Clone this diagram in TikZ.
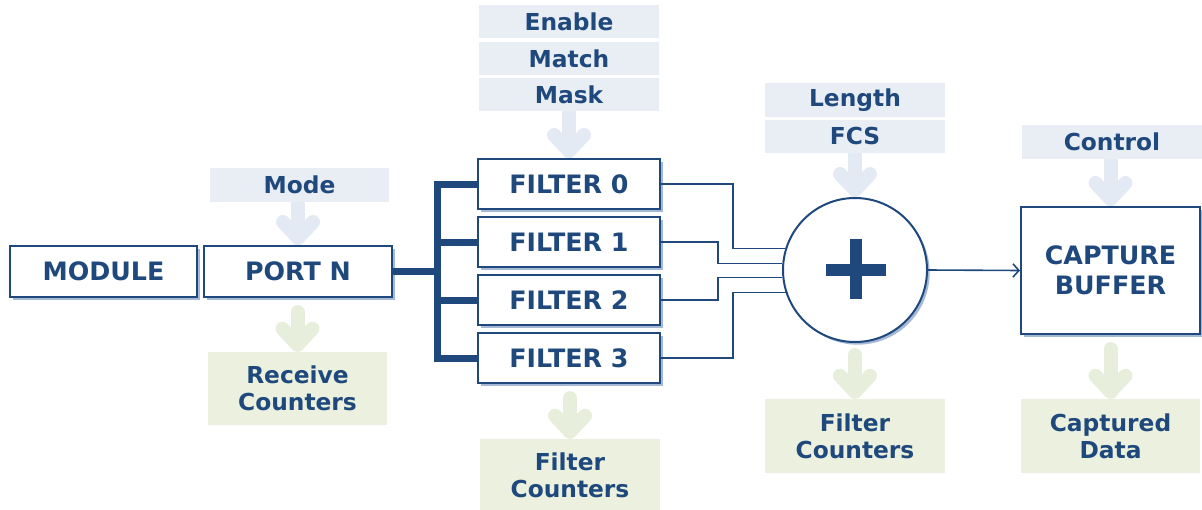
\documentclass[tikz,border=0pt]{standalone}
\usepackage{fontspec}
\setmainfont{DejaVu Sans}
\usetikzlibrary{calc,shadows,backgrounds,arrows.meta}
\definecolor{dblue}{RGB}{31,73,125}
\definecolor{lblue}{RGB}{233,237,244}
\definecolor{lgreen}{RGB}{235,241,222}
\definecolor{ablue}{RGB}{228,234,243}
\definecolor{agreen}{RGB}{231,239,220}
\definecolor{shc}{RGB}{165,185,215}
\newcommand\bigf{\fontsize{19}{22.5}\selectfont\bfseries}
\newcommand\labf{\fontsize{17.5}{20.25}\selectfont\bfseries}
\newcommand\fatarr[4]{%
  \draw[#1] ($(#2.south -| #3.north)+(0,#4)$) -- ($(#3.north)+(0,-7)$);
  \draw[#1] ($(#3.north)+(-15,-23)$) -- ($(#3.north)+(0,-7)$) -- ($(#3.north)+(15,-23)$);
}
\tikzset{
  box/.style={draw=dblue, line width=1.5pt, fill=white, text=dblue, font=\bigf,
    align=center, inner sep=0pt,
    drop shadow={shadow xshift=2pt, shadow yshift=-2pt, fill=shc, opacity=1}},
  inbox/.style={fill=lblue, text=dblue, font=\labf, align=center, inner sep=0pt},
  outbox/.style={fill=lgreen, text=dblue, font=\labf, align=center, inner sep=0pt},
  bus/.style={draw=dblue, line width=5.25pt},
  conn/.style={draw=dblue, line width=1.2pt},
  farb/.style={draw=ablue, line width=10.5pt, line cap=round, line join=round},
  farg/.style={draw=agreen, line width=10.5pt, line cap=round, line join=round},
}
\begin{document}
\begin{tikzpicture}[x=0.75pt,y=-0.75pt]
\useasboundingbox (0,0) rectangle (1202,510);
% main boxes
\node[box, minimum width=140.25pt, minimum height=38.25pt] (module) at (103.5,271.5) {MODULE};
\node[box, minimum width=141pt, minimum height=38.25pt] (port) at (298,271.5) {PORT N};
\node[inbox, minimum width=134.25pt, minimum height=25.5pt] (mode) at (299.5,185) {Mode};
\node[outbox, minimum width=134.25pt, minimum height=54.75pt] (recv) at (297.5,388.5) {Receive\\Counters};
% filters
\node[box, minimum width=136.5pt, minimum height=37.5pt] (f0) at (569,184) {FILTER 0};
\node[box, minimum width=136.5pt, minimum height=37.5pt] (f1) at (569,242) {FILTER 1};
\node[box, minimum width=136.5pt, minimum height=37.5pt] (f2) at (569,300) {FILTER 2};
\node[box, minimum width=136.5pt, minimum height=37.5pt] (f3) at (569,358) {FILTER 3};
\node[inbox, minimum width=135pt, minimum height=24.75pt] (enable) at (569,21.5) {Enable};
\node[inbox, minimum width=135pt, minimum height=24.75pt] (match) at (569,58.5) {Match};
\node[inbox, minimum width=135pt, minimum height=24.75pt] (mask) at (569,94.5) {Mask};
\node[outbox, minimum width=135pt, minimum height=54.75pt] (fc1) at (570,475.5) {Filter\\Counters};
% combiner
\node[box, circle, minimum size=108pt] (circ) at (855,270) {};
\fill[dblue] ($(circ.center)+(-29,-6)$) rectangle ($(circ.center)+(31,6)$);
\fill[dblue] ($(circ.center)+(-5,-31)$) rectangle ($(circ.center)+(7,29)$);
\node[inbox, minimum width=135pt, minimum height=25.5pt] (length) at (855,100) {Length};
\node[inbox, minimum width=135pt, minimum height=24.75pt] (fcs) at (855,136.5) {FCS};
\node[outbox, minimum width=135pt, minimum height=55.5pt] (fc2) at (855,436) {Filter\\Counters};
% capture buffer
\node[box, minimum width=134.25pt, minimum height=95.25pt] (buffer) at (1110.5,270.5) {CAPTURE\\BUFFER};
\node[inbox, minimum width=135pt, minimum height=25.5pt] (control) at (1112,142) {Control};
\node[outbox, minimum width=134.25pt, minimum height=55.5pt] (captured) at (1110.5,436) {Captured\\Data};
% bus
\coordinate (bj) at (437,271.5);
\draw[bus] (port.east) -- (bj);
\draw[bus] (f0.west) -| (bj) |- (f3.west);
\draw[bus] (bj |- f1.west) -- (f1.west);
\draw[bus] (bj |- f2.west) -- (f2.west);
% filter to combiner
\draw[conn] (f0.east) -- ++(72,0) |- (circ.163);
\draw[conn] (f1.east) -- ++(57,0) |- (circ.175.2);
\draw[conn] (f2.east) -- ++(57,0) |- (circ.186.4);
\draw[conn] (f3.east) -- ++(72,0) |- (circ.198.6);
\draw[conn, -{Straight Barb[length=4.5pt,width=10pt]}] (circ.east) -- (buffer.west);
% fat arrows
\begin{scope}[on background layer]
\fatarr{farb}{mode}{port}{2}
\fatarr{farg}{port}{recv}{14}
\fatarr{farb}{mask}{f0}{2}
\fatarr{farg}{f3}{fc1}{14}
\fatarr{farb}{fcs}{circ}{2}
\fatarr{farg}{circ}{fc2}{12}
\fatarr{farb}{control}{buffer}{2}
\fatarr{farg}{buffer}{captured}{14}
\end{scope}
\end{tikzpicture}
\end{document}
